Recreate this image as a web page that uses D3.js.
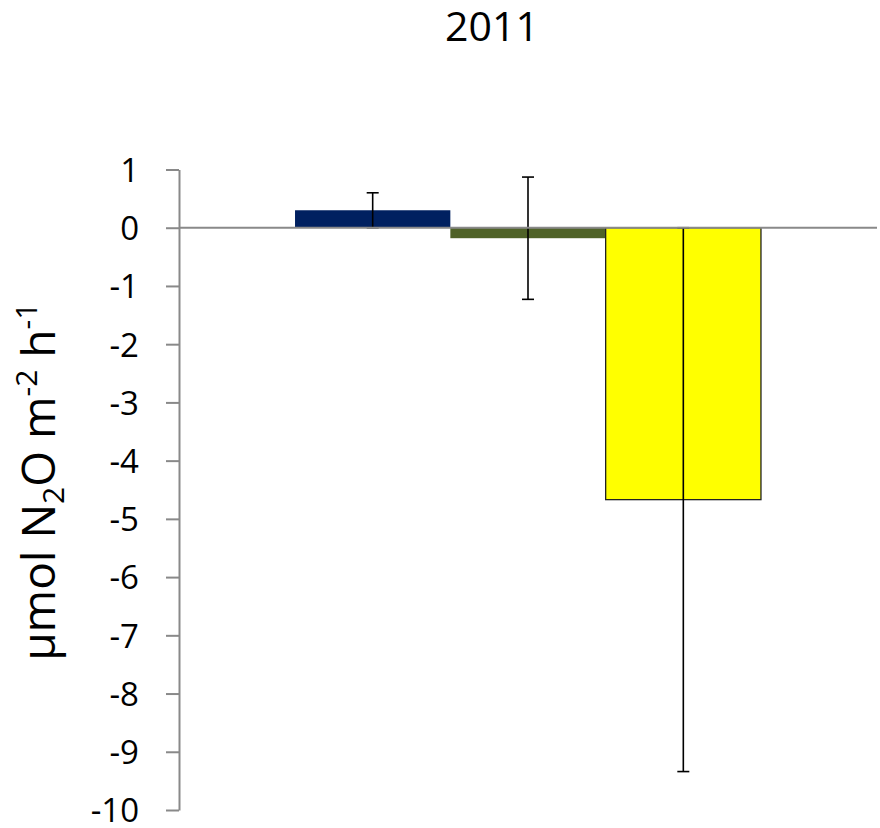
<!DOCTYPE html>
<html>
<head>
<meta charset="utf-8">
<script src="https://cdn.jsdelivr.net/npm/d3@7"></script>
<style>
  html, body { margin: 0; padding: 0; background: #fff; }
  svg { display: block; }
  text { font-family: "Open Sans", "Liberation Sans", sans-serif; fill: #000; }
</style>
</head>
<body>
<svg id="chart" width="880" height="828"></svg>
<script>
// N2O flux, 2011: one group of three treatments
const category = ["2011"];
const seriesNames = ["Series 1", "Series 2", "Series 3"];
const fluxValues = [0.30, -0.18, -4.67];
const fluxErrors = [0.30, 1.05, 4.67];
const seriesColors = ["#002060", "#4f6228", "#ffff00"];
const yTickValues = [1, 0, -1, -2, -3, -4, -5, -6, -7, -8, -9, -10];

const svg = d3.select("#chart");
const plot = { left: 179, right: 877, top: 169.5, bottom: 810 };

const y = d3.scaleLinear().domain([-10, 1]).range([plot.bottom, plot.top]);
const x0 = d3.scaleBand().domain(category).range([plot.left, plot.right])
  .paddingInner(0).paddingOuter(0.249);
const x1 = d3.scaleBand().domain(seriesNames).range([0, x0.bandwidth()]).padding(0);

const rows = seriesNames.map((s, i) => ({
  name: s, value: fluxValues[i], err: fluxErrors[i], color: seriesColors[i]
}));

// Title
svg.append("text")
  .attr("x", 492).attr("y", 41)
  .attr("text-anchor", "middle")
  .style("font-size", "41px")
  .text(category[0]);

// Y axis
const yAxis = d3.axisLeft(y)
  .tickValues(yTickValues)
  .tickFormat(d => String(d))
  .tickSize(13)
  .tickPadding(27)
  .tickSizeOuter(0);
const gy = svg.append("g").attr("transform", `translate(${plot.left},0)`).call(yAxis);
gy.select(".domain").attr("stroke", "#898989").attr("stroke-width", 2);
gy.selectAll(".tick line").attr("stroke", "#898989").attr("stroke-width", 2);
gy.selectAll(".tick text")
  .style("font-size", "33px")
  .style("font-family", "\"Open Sans\", \"Liberation Sans\", sans-serif")
  .attr("dy", "0.36em")
  .attr("fill", "#000");

// Bars
const gBars = svg.append("g").attr("transform", `translate(${x0(category[0])},0)`);
gBars.selectAll("rect")
  .data(rows)
  .join("rect")
  .attr("x", d => x1(d.name))
  .attr("width", x1.bandwidth())
  .attr("y", d => y(Math.max(0, d.value)))
  .attr("height", d => Math.abs(y(d.value) - y(0)))
  .attr("fill", d => d.color)
  .attr("stroke", d => d.color === "#ffff00" ? "#222" : "none")
  .attr("stroke-width", 1.3);

// Error bars
const capHalf = 6;
const gErr = gBars.append("g").attr("stroke", "#000").attr("stroke-width", 1.6);
rows.forEach(d => {
  const cx = x1(d.name) + x1.bandwidth() / 2;
  const yTop = y(d.value + d.err), yBot = y(d.value - d.err);
  gErr.append("line").attr("x1", cx).attr("x2", cx).attr("y1", yTop).attr("y2", yBot);
  gErr.append("line").attr("x1", cx - capHalf).attr("x2", cx + capHalf).attr("y1", yTop).attr("y2", yTop);
  gErr.append("line").attr("x1", cx - capHalf).attr("x2", cx + capHalf).attr("y1", yBot).attr("y2", yBot);
});

// Zero line, drawn over bars and error caps
svg.append("line")
  .attr("x1", plot.left).attr("x2", plot.right)
  .attr("y1", y(0)).attr("y2", y(0))
  .attr("stroke", "#898989").attr("stroke-width", 2);

// Y axis label with sub/superscripts
const yLabel = svg.append("text")
  .attr("transform", `translate(55,${(plot.top + plot.bottom) / 2 - 8}) rotate(-90)`)
  .attr("text-anchor", "middle")
  .style("font-size", "46px");
yLabel.append("tspan").text("\u00b5mol N");
yLabel.append("tspan").attr("dy", 9).style("font-size", "30px").text("2");
yLabel.append("tspan").attr("dy", -9).text("O m");
yLabel.append("tspan").attr("dy", -18).style("font-size", "30px").text("-2");
yLabel.append("tspan").attr("dy", 18).text(" h");
yLabel.append("tspan").attr("dy", -18).style("font-size", "30px").text("-1");
</script>
</body>
</html>
